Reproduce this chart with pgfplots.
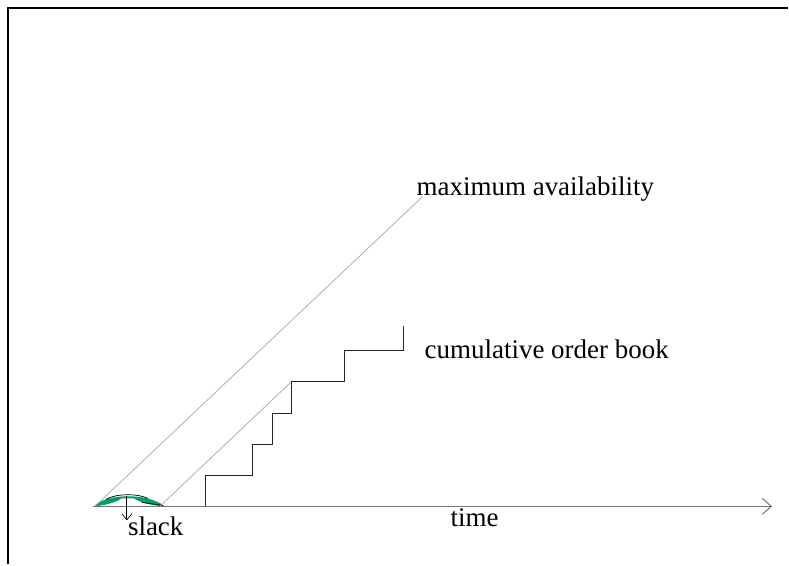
\documentclass[border=0pt]{standalone}
\usepackage{pgfplots}
\pgfplotsset{compat=1.18}
\usepackage{fontspec}
\setmainfont{Liberation Serif}
\usetikzlibrary{arrows.meta}
\definecolor{slackgreen}{RGB}{0,158,112}
\begin{document}
\begin{tikzpicture}
\begin{axis}[
  scale only axis, width=789pt, height=565pt,
  xmin=0, xmax=789, ymin=0, ymax=565, y dir=reverse,
  hide axis, clip=false,
]
% bounding box and frame
\path (axis cs:0,0) rectangle (axis cs:789,565);
\draw[line width=2pt] (axis cs:8,565) -- (axis cs:8,8) -- (axis cs:789,8);
% slack lens
\fill[slackgreen] (axis cs:94,507) .. controls (axis cs:106,494) and (axis cs:148,493) .. (axis cs:165,507)
   .. controls (axis cs:152,506) and (axis cs:142,504) .. (axis cs:134,499)
   -- (axis cs:122,499)
   .. controls (axis cs:114,504) and (axis cs:104,506) .. cycle;
\draw[black, line width=0.7pt] (axis cs:106,500) .. controls (axis cs:116,494) and (axis cs:138,494) .. (axis cs:148,499);
\draw[black, line width=0.7pt] (axis cs:142,503) -- (axis cs:163,506);
% time axis
\addplot[draw=gray!90!black, line width=1.4pt, -{Straight Barb[length=9pt,width=16pt,line width=1pt]}] coordinates {(93,507) (773,507)};
% maximum availability line
\addplot[draw=gray!70, line width=0.7pt] coordinates {(95,507) (423,197)};
% second diagonal
\addplot[draw=gray!70, line width=0.7pt] coordinates {(160,507) (292,382)};
% cumulative order book steps
\addplot[black!85, line width=1.1pt] coordinates {
 (206,507) (206,476) (253,476) (253,445) (273,445) (273,414)
 (292,414) (292,382) (345,382) (345,351) (404,351) (404,326)};
% slack arrow
\addplot[black, line width=0.7pt, -{Straight Barb[length=6pt,width=10pt]}] coordinates {(127,497) (127,521)};
% labels
\node[anchor=base west, inner sep=0pt, font=\fontsize{27}{32}\selectfont] at (axis cs:417,196) {maximum availability};
\node[anchor=base west, inner sep=0pt, font=\fontsize{27}{32}\selectfont] at (axis cs:425,359) {cumulative order book};
\node[anchor=base west, inner sep=0pt, font=\fontsize{27}{32}\selectfont] at (axis cs:451,527) {time};
\node[anchor=base west, inner sep=0pt, font=\fontsize{27}{32}\selectfont] at (axis cs:128,536) {slack};
\end{axis}
\end{tikzpicture}
\end{document}
